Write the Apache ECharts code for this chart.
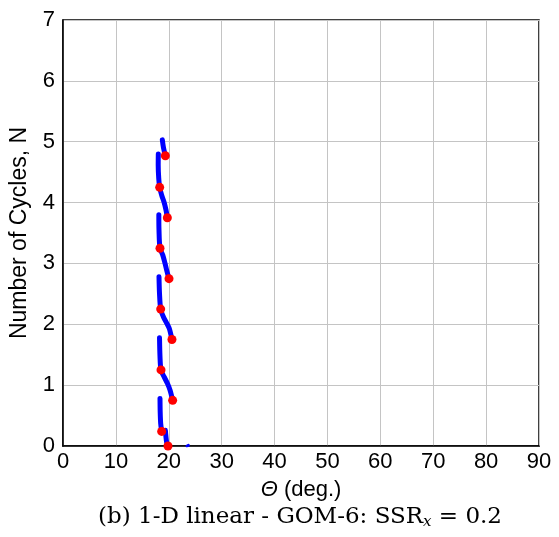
<!DOCTYPE html>
<html>
<head>
<meta charset="utf-8">
<script src="https://cdn.jsdelivr.net/npm/echarts@6/dist/echarts.min.js"></script>
<style>
html,body{margin:0;padding:0;background:#fff;}
#chart{width:559px;height:537px;}
</style>
</head>
<body>
<div id="chart"></div>
<script>
// Tick labels
const xTicks = [0, 10, 20, 30, 40, 50, 60, 70, 80, 90];
const yTicks = [0, 1, 2, 3, 4, 5, 6, 7];

// Blue curve branches: [theta (deg), N]
const branch0 = [[19.85, 0], [19.6, 0.06], [19.35, 0.26]];
const branch1 = [[18.66, 0.24], [18.47, 0.37], [18.38, 0.55], [18.34, 0.78]];
const branch2 = [[20.73, 0.75], [20.23, 0.92], [19.73, 1.03], [19.1, 1.14], [18.53, 1.25], [18.34, 1.47], [18.25, 1.78]];
const branch3 = [[20.6, 1.75], [20.1, 1.93], [19.6, 2.02], [18.97, 2.125], [18.47, 2.25], [18.25, 2.5], [18.15, 2.78]];
const branch4 = [[20.04, 2.75], [19.6, 2.89], [19.29, 3.0], [18.85, 3.14], [18.34, 3.25], [18.15, 3.55], [18.12, 3.8]];
const branch5 = [[19.73, 3.75], [19.47, 3.88], [19.1, 4.01], [18.66, 4.12], [18.28, 4.25], [18.1, 4.4], [18.0, 4.62], [18.02, 4.8]];
const branch6 = [[19.35, 4.77], [19.0, 4.9], [18.78, 5.03]];
const branch7 = [[23.45, 0], [23.7, 0.01]];

// Red markers at quarter cycles: [theta (deg), N]
const dotsTheta = [19.85, 18.66, 20.73, 18.53, 20.6, 18.47, 20.04, 18.34, 19.73, 18.28, 19.35];
const dotsN     = [0, 0.24, 0.75, 1.25, 1.75, 2.25, 2.75, 3.25, 3.75, 4.25, 4.77];

const branches = [branch0, branch1, branch2, branch3, branch4, branch5, branch6, branch7];

const chart = echarts.init(document.getElementById('chart'), null, {renderer: 'canvas'});

const lineSeries = branches.map((b, i) => ({
  type: 'line',
  data: b,
  showSymbol: false,
  smooth: 0.3,
  lineStyle: {color: '#0000ff', width: i === 7 ? 3 : 5, cap: 'round'},
  z: 3,
  animation: false
}));

const font = '"Liberation Sans", Arial, sans-serif';
const serif = '"DejaVu Serif", "Liberation Serif", serif';

chart.setOption({
  animation: false,
  grid: {
    left: 63, right: 20, top: 20, bottom: 91,
    show: true, borderColor: '#000', borderWidth: 1.5, backgroundColor: '#fff'
  },
  xAxis: {
    type: 'value', min: 0, max: 90, interval: 10,
    axisLine: {show: true, onZero: false, lineStyle: {color: '#000', width: 1.5}},
    axisTick: {show: false},
    splitLine: {show: true, lineStyle: {color: '#c4c4c4', width: 1}},
    axisLabel: {
      color: '#000', fontSize: 22, fontFamily: font, margin: 5,
      formatter: v => (xTicks.indexOf(v) >= 0 ? String(v) : '')
    },
    name: '{i|Θ} (deg.)',
    nameLocation: 'middle',
    nameGap: 33,
    nameTextStyle: {
      color: '#000', fontSize: 22, fontFamily: font,
      rich: {i: {fontStyle: 'italic', fontSize: 22, fontFamily: font, color: '#000'}}
    }
  },
  yAxis: {
    type: 'value', min: 0, max: 7, interval: 1,
    axisLine: {show: true, onZero: false, lineStyle: {color: '#000', width: 1.5}},
    axisTick: {show: false},
    splitLine: {show: true, lineStyle: {color: '#c4c4c4', width: 1}},
    axisLabel: {
      color: '#000', fontSize: 22, fontFamily: font, margin: 8,
      formatter: v => (yTicks.indexOf(v) >= 0 ? String(v) : '')
    },
    name: 'Number of Cycles, N',
    nameLocation: 'middle',
    nameRotate: 90,
    nameGap: 32,
    nameTextStyle: {color: '#000', fontSize: 23, fontFamily: font}
  },
  graphic: [{
    type: 'text',
    x: 300,
    y: 517,
    style: {
      text: '{a|(b) 1-D linear - GOM-6: SSR}{s|x}{a| = 0.2}',
      align: 'center',
      verticalAlign: 'middle',
      rich: {
        a: {fontSize: 23, fontFamily: serif, fill: '#000', lineHeight: 26},
        s: {fontSize: 15, fontStyle: 'italic', fontFamily: serif, fill: '#000', lineHeight: 26, padding: [10, 0, 0, 0]}
      }
    }
  }],
  series: lineSeries.concat([{
    type: 'scatter',
    data: dotsTheta.map((t, i) => [t, dotsN[i]]),
    symbol: 'circle',
    symbolSize: 9,
    itemStyle: {color: '#ff0000', opacity: 1},
    z: 5,
    animation: false
  }])
});
</script>
</body>
</html>
